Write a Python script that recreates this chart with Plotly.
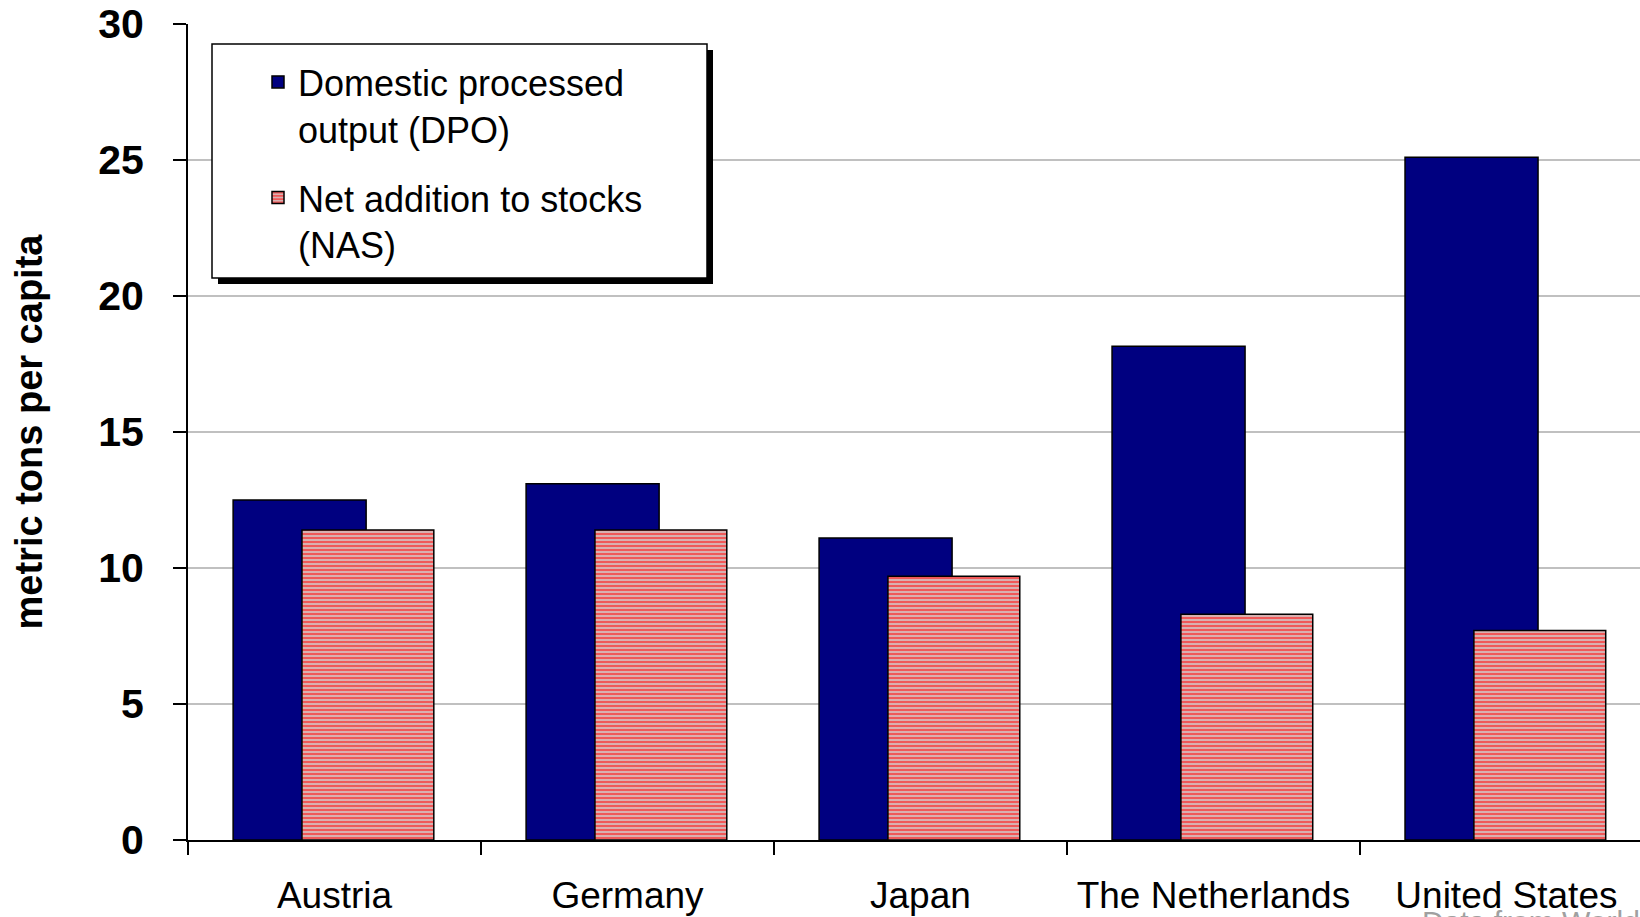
import plotly.graph_objects as go

categories = ["Austria", "Germany", "Japan", "The Netherlands", "United States"]
dpo_values = [12.5, 13.1, 11.1, 18.15, 25.1]
nas_values = [11.4, 11.4, 9.7, 8.3, 7.7]
dpo_name = "Domestic processed<br>output (DPO)"
nas_name = "Net addition to stocks<br>(NAS)"
y_ticks = [0, 5, 10, 15, 20, 25, 30]

W, H = 1640, 917
L, R, T, B = 188, 0, 24, 77
PW, PH = W - L - R, H - T - B

def px(xp):
    return (xp - L) / PW

def py(yp):
    return 1 - (yp - T) / PH

fig = go.Figure()
fig.add_trace(go.Bar(
    x=categories, y=dpo_values, name=dpo_name, legendgroup="a",
    width=0.454, offset=-0.346,
    marker=dict(color="#000080", line=dict(color="#000000", width=1.5)),
))
fig.add_trace(go.Bar(
    x=categories, y=nas_values, name=nas_name, legendgroup="b",
    width=0.45, offset=-0.111,
    marker=dict(color="#e89090", line=dict(color="#000000", width=1.5),
                pattern=dict(shape="-", fgcolor="#f05858", bgcolor="#d8b0b0",
                             size=4, solidity=0.5, fillmode="replace")),
))

shapes = [
    dict(type="rect", xref="paper", yref="paper", layer="above",
         x0=px(218), x1=px(713), y0=py(284), y1=py(50),
         fillcolor="#000000", line=dict(width=0)),
    dict(type="rect", xref="paper", yref="paper", layer="above",
         x0=px(212), x1=px(707), y0=py(278), y1=py(44),
         fillcolor="#ffffff", line=dict(color="#000000", width=1.5)),
]

fig.update_layout(
    width=W, height=H, autosize=False,
    margin=dict(l=L, r=R, t=T, b=B, pad=0),
    paper_bgcolor="#ffffff", plot_bgcolor="#ffffff",
    barmode="overlay",
    font=dict(family="Liberation Sans, Arial, sans-serif", color="#000000"),
    showlegend=True,
    legend=dict(x=px(258), y=py(52), xanchor="left", yanchor="top",
                bgcolor="rgba(0,0,0,0)", borderwidth=0,
                font=dict(size=36, family="Liberation Sans, Arial, sans-serif"),
                valign="top", tracegroupgap=19, traceorder="grouped"),
    shapes=shapes,
    xaxis=dict(type="category", categoryorder="array", categoryarray=categories,
               range=[-0.5, 4.456], tickson="boundaries", ticks="outside",
               ticklen=13, tickwidth=2, tickcolor="#000000",
               showline=True, linecolor="#000000", linewidth=2,
               showgrid=False, zeroline=False,
               tickfont=dict(size=37, family="Liberation Sans, Arial, sans-serif"),
               ticklabelstandoff=22),
    yaxis=dict(range=[0, 30], tickvals=y_ticks, ticks="outside",
               ticklen=13, tickwidth=2, tickcolor="#000000",
               showline=True, linecolor="#000000", linewidth=2,
               showgrid=True, gridcolor="#c0c0c0", gridwidth=2, zeroline=False,
               tickfont=dict(size=41, family="Liberation Sans, Arial, sans-serif", weight="bold"),
               ticklabelstandoff=21,
               title=dict(text="metric tons per capita\u00a0\u00a0", standoff=44,
                          font=dict(size=38, family="Liberation Sans, Arial, sans-serif", weight="bold"))),
    annotations=[dict(text="Data from World Resources Institute", xref="paper", yref="paper",
                      x=px(1420), y=py(903), xanchor="left", yanchor="top",
                      showarrow=False, font=dict(size=30, color="#a0a0a0"))],
)

fig.write_html("out.html")
